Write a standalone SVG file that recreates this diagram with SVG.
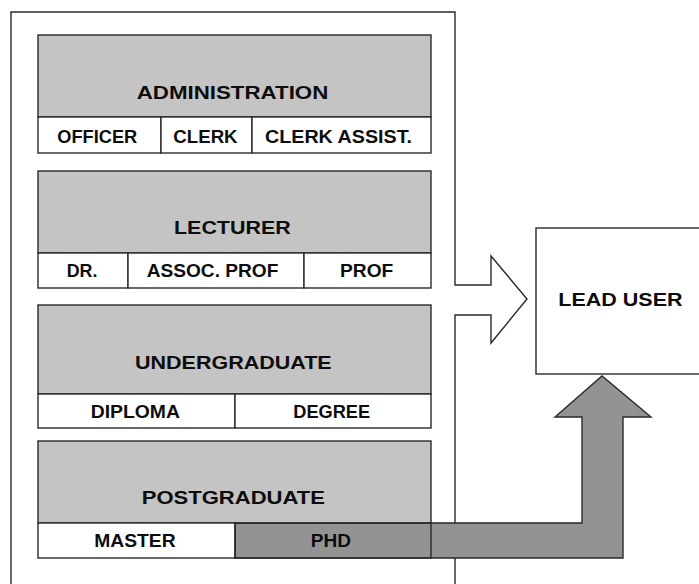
<svg xmlns="http://www.w3.org/2000/svg" width="699" height="584" viewBox="0 0 699 584">
  <style>
    .frame { fill: none; stroke: #2a2a2a; stroke-width: 1.4; }
    .head { fill: #c4c4c4; stroke: #2a2a2a; stroke-width: 1.4; }
    .cell { fill: #ffffff; stroke: #2a2a2a; stroke-width: 1.4; }
    .cell-open { fill: none; stroke: #2a2a2a; stroke-width: 1.4; }
    .box { fill: #ffffff; stroke: #2a2a2a; stroke-width: 1.4; }
    .flow { fill: #939393; stroke: #2a2a2a; stroke-width: 1.4; stroke-linejoin: miter; }
    text { font-family: "Liberation Sans", Arial, Helvetica, sans-serif; font-weight: bold; fill: #0d0d0d; }
    .h { font-size: 19px; }
    .c { font-size: 17.5px; }
  </style>
  <rect width="699" height="584" fill="#ffffff"/>

  <!-- outer frame whose right side forms the open arrow -->
  <g id="frame">
    <path class="frame" d="M11,590 V12 H455 V285 H491 V256 L527,299 L491,343 V315 H455 V590"/>
  </g>

  <!-- lead user -->
  <g id="lead-user">
    <rect class="box" x="536" y="228" width="170" height="146"/>
    <text x="558.3" y="306" class="h" textLength="124.3" lengthAdjust="spacingAndGlyphs">LEAD USER</text>
  </g>

  <!-- bent block arrow from PHD up to the lead user -->
  <g id="connectors">
    <path class="flow" d="M235,523 H582 V417 H555 L602,376 L651,417 H623 V558 H235 Z"/>
  </g>

  <g id="administration">
    <rect class="head" x="38" y="35" width="393" height="82"/>
    <rect class="cell" x="38" y="117" width="123" height="36"/>
    <rect class="cell" x="161" y="117" width="91" height="36"/>
    <rect class="cell" x="252" y="117" width="179" height="36"/>
    <text x="136.7" y="99" class="h" textLength="191.6" lengthAdjust="spacingAndGlyphs">ADMINISTRATION</text>
    <text x="57.3" y="143" class="c" textLength="80" lengthAdjust="spacingAndGlyphs">OFFICER</text>
    <text x="173.3" y="143" class="c" textLength="64.3" lengthAdjust="spacingAndGlyphs">CLERK</text>
    <text x="265" y="143" class="c" textLength="147" lengthAdjust="spacingAndGlyphs">CLERK ASSIST.</text>
  </g>

  <g id="lecturer">
    <rect class="head" x="38" y="171" width="393" height="82"/>
    <rect class="cell" x="38" y="253" width="90" height="35"/>
    <rect class="cell" x="128" y="253" width="176" height="35"/>
    <rect class="cell" x="304" y="253" width="127" height="35"/>
    <text x="174" y="234" class="h" textLength="116.7" lengthAdjust="spacingAndGlyphs">LECTURER</text>
    <text x="66.7" y="277" class="c" textLength="30.7" lengthAdjust="spacingAndGlyphs">DR.</text>
    <text x="146.7" y="277" class="c" textLength="131.7" lengthAdjust="spacingAndGlyphs">ASSOC. PROF</text>
    <text x="340" y="277" class="c" textLength="53.3" lengthAdjust="spacingAndGlyphs">PROF</text>
  </g>

  <g id="undergraduate">
    <rect class="head" x="38" y="305" width="393" height="89"/>
    <rect class="cell" x="38" y="394" width="197" height="34"/>
    <rect class="cell" x="235" y="394" width="196" height="34"/>
    <text x="135" y="369" class="h" textLength="196.7" lengthAdjust="spacingAndGlyphs">UNDERGRADUATE</text>
    <text x="90.7" y="418" class="c" textLength="89.3" lengthAdjust="spacingAndGlyphs">DIPLOMA</text>
    <text x="293.3" y="418" class="c" textLength="76.7" lengthAdjust="spacingAndGlyphs">DEGREE</text>
  </g>

  <g id="postgraduate">
    <rect class="head" x="38" y="441" width="393" height="82"/>
    <rect class="cell" x="38" y="523" width="197" height="35"/>
    <rect class="cell-open" x="235" y="523" width="196" height="35"/>
    <text x="141.7" y="504" class="h" textLength="183.3" lengthAdjust="spacingAndGlyphs">POSTGRADUATE</text>
    <text x="94.3" y="547" class="c" textLength="81.3" lengthAdjust="spacingAndGlyphs">MASTER</text>
    <text x="310.7" y="547" class="c" textLength="40.3" lengthAdjust="spacingAndGlyphs">PHD</text>
  </g>
</svg>
